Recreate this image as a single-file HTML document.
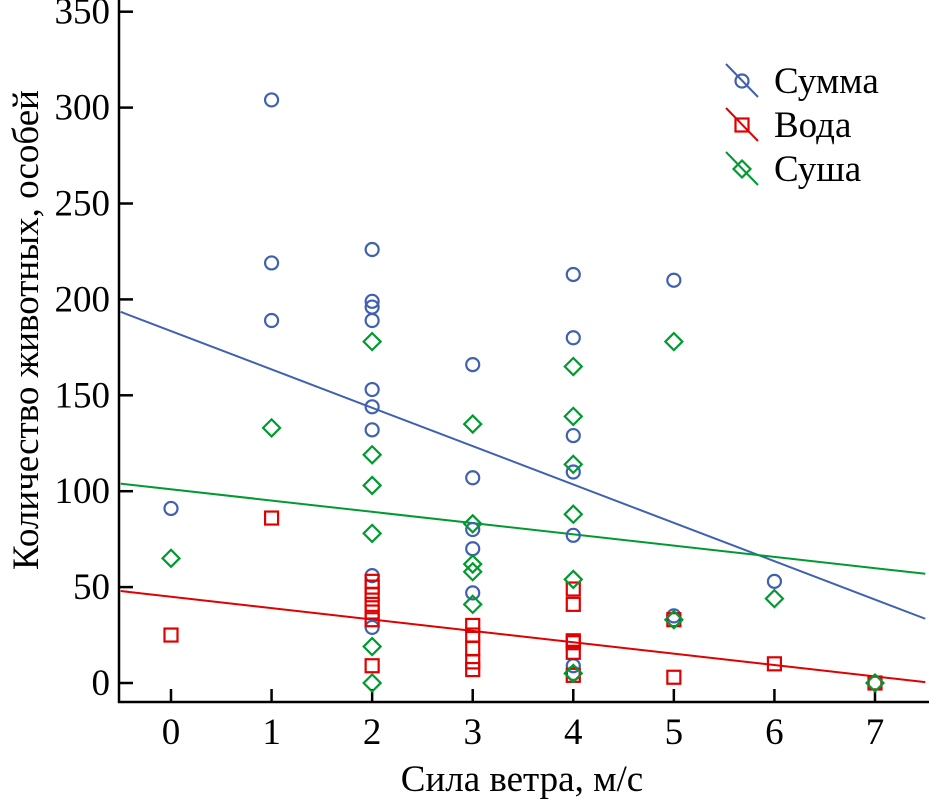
<!DOCTYPE html>
<html><head><meta charset="utf-8"><style>
body{margin:0;background:#fff}
svg{display:block;font-family:"Liberation Serif",serif}
</style></head><body>
<svg id="chart" width="929" height="800"></svg>
<script>
const xTicks=[0,1,2,3,4,5,6,7];
const yTicks=[0,50,100,150,200,250,300,350];
const sumX=[0,1,1,1,2,2,2,2,2,2,2,2,2,3,3,3,3,3,4,4,4,4,4,4,4,5,5,6,7];
const sumY=[91,304,219,189,226,199,196,189,153,144,132,56,29,166,107,80,70,47,213,180,129,110,77,9,5,210,35,53,0];
const waterX=[0,1,2,2,2,2,2,2,2,3,3,3,3,3,4,4,4,4,4,4,5,5,6,7];
const waterY=[25,86,53,50,46,41,37,33,9,30,25,18,11,7,49,41,22,21,16,4,33,3,10,0];
const landX=[0,1,2,2,2,2,2,2,3,3,3,3,3,4,4,4,4,4,4,5,5,6,7];
const landY=[65,133,178,119,103,78,19,0,135,83,62,58,41,165,139,114,88,54,5,178,33,44,0];
const fitIntercept=[183.5,45,101];
const fitSlope=[-20,-5.94,-5.875];
const colors=['#4060b0','#e00000','#009a30'];
const names=['Сумма','Вода','Суша'];
const NS='http://www.w3.org/2000/svg';
const svg=document.getElementById('chart');
const X=v=>171+v*100.57;
const Y=v=>683-v*1.918;
function mk(t,a,p){const e=document.createElementNS(NS,t);for(const k in a)e.setAttribute(k,a[k]);(p||svg).appendChild(e);return e;}
let e;
e=mk('line',{x1:119,y1:0,x2:119,y2:703,stroke:'#000','stroke-width':2.5});


e=mk('line',{x1:118,y1:702,x2:929,y2:702,stroke:'#000','stroke-width':2.5});


yTicks.forEach(v=>{
 e=mk('line',{x1:119,y1:Y(v),x2:133,y2:Y(v),stroke:'#000','stroke-width':2.5});
 
 
 e=mk('text',{x:110,y:Y(v)+12,'text-anchor':'end','font-size':37});
 e.textContent=v;
 
 
});
xTicks.forEach(v=>{
 e=mk('line',{x1:X(v),y1:689,x2:X(v),y2:702,stroke:'#000','stroke-width':2.5});
 
 
 e=mk('text',{x:X(v),y:744,'text-anchor':'middle','font-size':37});
 e.textContent=v;
 
 
});
e=mk('text',{x:522,y:791,'text-anchor':'middle','font-size':37});
e.textContent='Сила ветра, м/с';


e=mk('text',{x:0,y:0,'text-anchor':'middle','font-size':37,transform:'translate(38,330) rotate(-90)'});
e.textContent='Количество животных, особей';


for(let i=0;i<3;i++){
 const x0=-0.5,x1=7.5;
 e=mk('line',{x1:X(x0),y1:Y(fitIntercept[i]+fitSlope[i]*x0),x2:X(x1),y2:Y(fitIntercept[i]+fitSlope[i]*x1),stroke:colors[i],'stroke-width':2});
 
 
}
function marker(type,cx,cy,c){
 if(type===0) return mk('circle',{cx:cx,cy:cy,r:6.5,fill:'none',stroke:c,'stroke-width':2.2});
 if(type===1) return mk('rect',{x:cx-6.5,y:cy-6.5,width:13,height:13,fill:'none',stroke:c,'stroke-width':2.2});
 return mk('polygon',{points:`${cx},${cy-8.5} ${cx+8.5},${cy} ${cx},${cy+8.5} ${cx-8.5},${cy}`,fill:'none',stroke:c,'stroke-width':2.2});
}
sumX.forEach((v,i)=>{e=marker(0,X(v),Y(sumY[i]),colors[0]);
 
 });
waterX.forEach((v,i)=>{e=marker(1,X(v),Y(waterY[i]),colors[1]);
 
 });
landX.forEach((v,i)=>{e=marker(2,X(v),Y(landY[i]),colors[2]);
 
 });
for(let i=0;i<3;i++){
 const ly=81+i*44;
 e=mk('line',{x1:726,y1:ly-17,x2:758,y2:ly+16,stroke:colors[i],'stroke-width':2});
 
 
 e=marker(i,742,ly,colors[i]);
 
 
 e=mk('text',{x:774,y:ly+12,'font-size':37});
 e.textContent=names[i];
 
 
}
</script>
</body></html>
